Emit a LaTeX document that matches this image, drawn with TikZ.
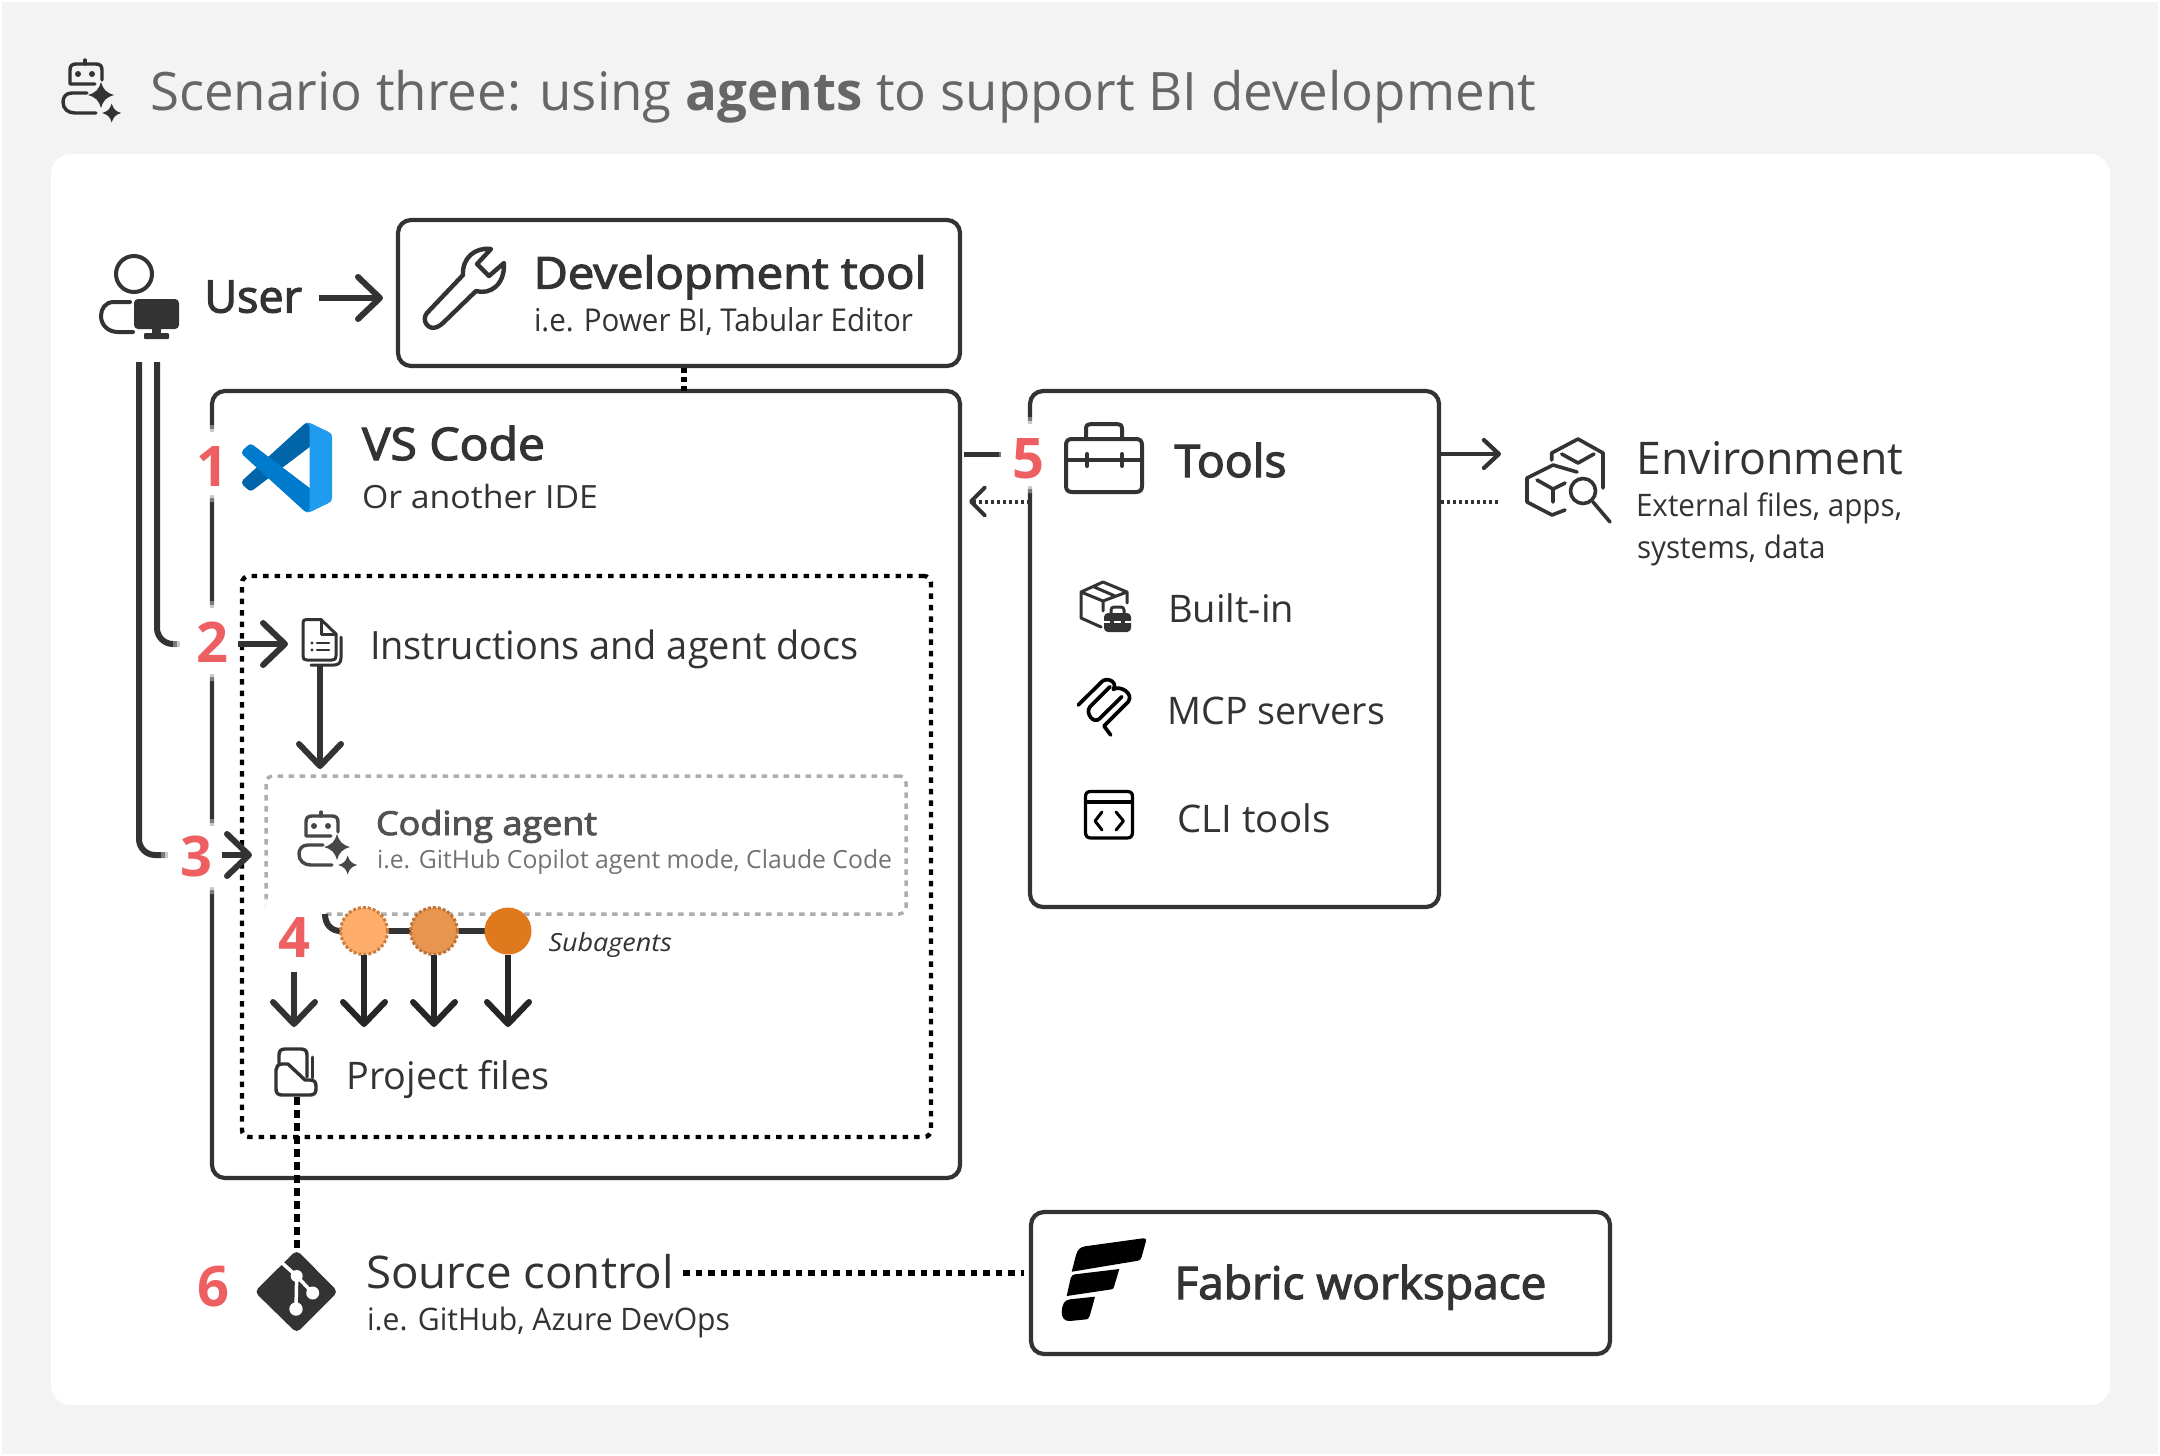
\documentclass[tikz,border=0pt]{standalone}
\usepackage{graphicx}
\usepackage{fontspec}
\setmainfont{Open Sans}
\newfontfamily\semif[FakeBold=2.6]{Open Sans}
\usetikzlibrary{arrows.meta}
\definecolor{ink}{HTML}{333333}
\definecolor{pagebg}{HTML}{F3F3F3}
\definecolor{numred}{HTML}{EE5F62}
\definecolor{sub}{HTML}{666666}
\tikzset{
  x=1pt,y=-1pt,
  txtnode/.style={inner sep=0pt,outer sep=0pt,anchor=base west},
  numnode/.style={inner sep=0pt,outer sep=0pt,anchor=base,text=numred,font=\bfseries\fontsize{56}{56}\selectfont},
  solidbox/.style={draw=ink,line width=4.2pt,rounded corners=13pt,inner sep=0pt,outer sep=0pt},
  dotbox/.style={draw=black,line width=4.4pt,rounded corners=7pt,dash pattern=on 5.5pt off 6pt,inner sep=0pt,outer sep=0pt},
  greybox/.style={draw=black!32,line width=3.5pt,rounded corners=7pt,dash pattern=on 5.5pt off 5.5pt,inner sep=0pt,outer sep=0pt},
  bigarrow/.style={draw=ink,line width=6pt,-{Straight Barb[length=22pt,width=42pt,line width=6pt,round]}},
  thinarrow/.style={draw=ink,line width=4.5pt,-{Straight Barb[length=15pt,width=28pt,line width=4.2pt,round]}},
  finearrow/.style={draw=ink,line width=4pt,dash pattern=on 3pt off 3pt,-{Straight Barb[length=14pt,width=28pt,line width=3.8pt,round]}},
  icon/.style={draw=ink,line width=4pt,line cap=round,line join=round},
  subagent/.style={circle,minimum size=47pt,inner sep=0pt,outer sep=0pt},
}
\newcommand\tx[8]{\node[txtnode,text=#7] (#1) at (#2,#3) {\resizebox{#4pt}{\height}{#5\fontsize{#6}{#6}\selectfont #8}};}
\newcommand\boxn[6]{\node[#6,minimum width={(#4-#2)*1pt},minimum height={(#5-#3)*1pt}] (#1) at ({(#2+#4)/2},{(#3+#5)/2}) {};}
\newcommand\halo[4]{%
  \fill[white,opacity=.35,rounded corners=6pt] (#1-7,#2-7) rectangle (#3+7,#4+7);
  \fill[white,opacity=.6,rounded corners=5pt] (#1-3,#2-3) rectangle (#3+3,#4+3);
  \fill[white,rounded corners=3pt] (#1,#2) rectangle (#3,#4);}
\newcommand\spark[3]{\begin{scope}[shift={(#1,#2)},scale=#3]
  \fill (0,-1) .. controls (.18,-.4) and (.4,-.18) .. (1,0) .. controls (.4,.18) and (.18,.4) .. (0,1) .. controls (-.18,.4) and (-.4,.18) .. (-1,0) .. controls (-.4,-.18) and (-.18,-.4) .. (0,-1) -- cycle;\end{scope}}
\newcommand\robot[3]{\begin{scope}[shift={(#1,#2)},color=#3,fill=#3]
  \draw[icon,draw=#3,line width=3.4pt] (95,84) -- (70,84) -- (70,70) .. controls (70,66) and (72,64) .. (76,64) -- (96,64) .. controls (100,64) and (102,66) .. (102,70) -- (102,80);
  \draw[icon,draw=#3,line width=3.4pt] (85,60) -- (85,64);
  \fill (78,74) circle (3);\fill (92,74) circle (3);
  \draw[icon,draw=#3,line width=3.4pt] (87,93) -- (72,93) .. controls (66,93) and (63,97) .. (63,102) .. controls (63,109) and (68,113) .. (75,113) -- (96,113);
  \spark{101}{95}{13}\spark{111.7}{113}{9.5}\end{scope}}
\begin{document}
\begin{tikzpicture}
\useasboundingbox (0,0) rectangle (2160,1456);
\fill[white] (0,0) rectangle (2160,1456);
\fill[pagebg] (2,2) rectangle (2158,1454);
\fill[white,rounded corners=20pt] (51,154) rectangle (2110,1405);

% boxes
\boxn{devbox}{398}{220}{960}{366}{solidbox}
\boxn{vsbox}{212}{391}{960}{1178}{solidbox}
\boxn{toolsbox}{1030}{391}{1439}{907}{solidbox}
\boxn{fabricbox}{1031}{1212}{1610}{1354}{solidbox}
\boxn{docsbox}{242}{576}{931}{1137}{dotbox}
\boxn{agentbox}{266}{776}{906}{914}{greybox}

% named ends
\coordinate (userA) at (157,362);
\coordinate (userB) at (139,362);
\coordinate (endA) at (190,644);
\coordinate (endB) at (172,855);
\coordinate (devdot) at (684,368);
\coordinate (vsdot) at (684,391);
\coordinate (vsout) at (964,454);
\coordinate (vsoutend) at (1001,454);
\coordinate (toolsin) at (1030,501.5);
\coordinate (vsin) at (969,501.5);
\coordinate (toolsout) at (1441,454);
\coordinate (envin) at (1501,454);
\coordinate (toolsdot) at (1441,501.5);
\coordinate (envdot) at (1500,501.5);

\draw[draw=ink,line width=6pt,rounded corners=16pt] (userA) |- (endA);
\draw[draw=ink,line width=6pt,rounded corners=16pt] (userB) |- (endB);
\draw[draw=black,line width=5.5pt,dash pattern=on 5pt off 4pt] (devdot) -- (vsdot);
\draw[draw=ink,line width=5pt] (vsout) -- (vsoutend);

% halos round the numbers
\halo{199}{432}{226}{495}
\halo{180}{608}{232}{674}
\halo{168}{826}{222}{887}
\halo{265}{905}{320}{966}
\halo{1006}{424}{1046}{486}

% connectors
\coordinate (a2s) at (238,644); \coordinate (a2e) at (288,644);
\draw[bigarrow] (a2s) -- (a2e);
\coordinate (a3s) at (222,855); \coordinate (a3e) at (252,855);
\draw[bigarrow] (a3s) -- (a3e);
\coordinate (userarrow) at (319,298); \coordinate (devin) at (383,298);
\draw[bigarrow] (userarrow) -- (devin);
\coordinate (docout) at (320,666); \coordinate (agentin) at (320,769);
\draw[bigarrow] (docout) -- (agentin);
\draw[finearrow] (toolsin) -- (vsin);
\draw[thinarrow] (toolsout) -- (envin);
\draw[draw=ink,line width=4pt,dash pattern=on 3pt off 3pt] (toolsdot) -- (envdot);

% subagents
\coordinate (agentfoot) at (325,914);
\node[subagent,fill=white] (s1) at (364,931) {};
\node[subagent,fill=white] (s2) at (434,931) {};
\node[subagent,fill=white] (s3) at (508,931) {};
\draw[draw=ink,line width=6pt] (agentfoot) .. controls (325,925) and (332,931) .. (s1.west);
\draw[draw=ink,line width=6pt] (s1) -- (s2);
\draw[draw=ink,line width=6pt] (s2) -- (s3);
\node[subagent,fill={rgb,255:red,255;green,173;blue,107},draw={rgb,255:red,200;green,125;blue,65},line width=3pt,dash pattern=on 3pt off 2pt] (s1b) at (s1) {};
\node[subagent,fill={rgb,255:red,232;green,149;blue,79},draw={rgb,255:red,190;green,115;blue,55},line width=3pt,dash pattern=on 3pt off 2pt] (s2b) at (s2) {};
\node[subagent,fill={rgb,255:red,224;green,120;blue,30}] (s3b) at (s3) {};
\coordinate (t0) at (294,972);\coordinate (t0e) at (294,1027);
\coordinate (t1) at (364,1027);\coordinate (t2) at (434,1027);\coordinate (t3) at (508,1027);
\draw[bigarrow] (t0) -- (t0e);
\draw[bigarrow,draw=black!85] (s1b.south) -- (t1);
\draw[bigarrow,draw=black!85] (s2b.south) -- (t2);
\draw[bigarrow,draw=black!85] (s3b.south) -- (t3);

% source control connectors
\coordinate (projout) at (297,1097);
\coordinate (gittop) at (297,1250);
\coordinate (srcout) at (683,1273);
\coordinate (fabricin) at (1024,1273);
\draw[draw=black,line width=6pt,dash pattern=on 8pt off 5pt] (projout) -- (gittop);
\draw[draw=black,line width=6pt,dash pattern=on 6.5pt off 6pt] (srcout) -- (fabricin);

% title icon + title
\robot{0}{0}{ink}
\tx{title}{150}{110}{1386}{}{53}{sub}{Scenario three: using {\bfseries agents} to support BI development}

% user icon
\draw[icon] (134,274) circle (18);
\draw[icon] (130,302) -- (114,302) .. controls (105,302) and (101,309) .. (101,316) .. controls (101,325) and (108,332) .. (118,332) -- (133,332);
\fill[ink,rounded corners=4pt] (134,299) rectangle (179,329);
\fill[ink] (152,328) rectangle (161,335);
\fill[ink,rounded corners=1pt] (144,333) rectangle (169,339);
\tx{user}{204.5}{312.5}{97.5}{\semif}{45}{ink}{User}

% wrench
\draw[icon,line width=4.4pt] (491,249) .. controls (475,247) and (462,258) .. (463,275) -- (427,313) .. controls (421,320) and (428,331) .. (437,327) .. controls (439,326) and (441,325) .. (443,323) -- (476,291) .. controls (490,295) and (505,285) .. (504,263) -- (489,276) -- (477,264) -- cycle;
\tx{devt}{533.5}{288.6}{393}{\semif}{44}{ink}{Development tool}
\tx{devs}{534}{331.5}{379}{}{31.5}{ink}{i.e. Power BI, Tabular Editor}

% VS Code logo
\begin{scope}[shift={(242,422.5)},scale=.9]
\fill[color={rgb,255:red,0;green,101;blue,169}] (75.9,.9) .. controls (73.5,-.3) and (70.5,.1) .. (68.8,2.1) -- (1.3,63.6) .. controls (-.4,65.2) and (-.4,68) .. (1.3,69.7) -- (6.8,74.7) .. controls (8.3,76) and (10.6,76.1) .. (12.2,75) -- (93.4,13.4) .. controls (96,11.4) and (100,13.3) .. (100,16.6) .. controls (100,14) and (98.6,11.8) .. (96.5,10.8) -- cycle;
\fill[color={rgb,255:red,0;green,122;blue,204}] (75.9,99.1) .. controls (73.5,100.3) and (70.5,99.9) .. (68.8,97.9) -- (1.3,36.4) .. controls (-.4,34.8) and (-.4,32) .. (1.3,30.3) -- (6.8,25.3) .. controls (8.3,24) and (10.6,23.9) .. (12.2,25) -- (93.4,86.6) .. controls (96,88.6) and (100,86.7) .. (100,83.4) .. controls (100,86) and (98.6,88.2) .. (96.5,89.2) -- cycle;
\fill[color={rgb,255:red,31;green,156;blue,240}] (75.9,99.1) .. controls (73.5,100.3) and (70.5,99.9) .. (68.8,97.9) .. controls (71,100.2) and (75,98.6) .. (75,95.35) -- (75,4.65) .. controls (75,1.4) and (71,-.2) .. (68.8,2.1) .. controls (70.5,.1) and (73.5,-.3) .. (75.9,.9) -- (96.5,10.8) .. controls (98.6,11.8) and (100,14) .. (100,16.4) -- (100,83.6) .. controls (100,86) and (98.6,88.2) .. (96.5,89.2) -- cycle;
\end{scope}
\tx{vst}{362}{460}{183}{\semif}{45}{ink}{VS Code}
\tx{vss}{362}{508}{236}{}{32}{ink}{Or another IDE}

% doc icon
\draw[icon,line width=3pt] (307,619.5) -- (321,619.5) -- (336,634) -- (336,656) .. controls (336,659) and (335,660) .. (332,660) -- (307,660) .. controls (304,660) and (303,659) .. (303,656) -- (303,623) .. controls (303,620) and (304,619.5) .. (307,619.5) -- cycle;
\draw[icon,line width=3pt] (321,620) -- (321,634) -- (336,634);
\draw[icon,line width=3pt] (341,637) -- (341,658) .. controls (341,663) and (338,665) .. (334,665) -- (311,665);
\draw[icon,line width=2.5pt] (317,643) -- (329,643) (317,650) -- (329,650);
\fill[ink] (312,643) circle (1.6) (312,650) circle (1.6);
\tx{docs}{370}{659}{489}{}{39}{ink}{Instructions and agent docs}

% coding agent
\robot{236}{752}{black!72}
\tx{agt}{376}{835}{221}{\semif}{33}{black!68}{Coding agent}
\tx{ags}{377}{868}{515}{}{25}{black!55}{i.e. GitHub Copilot agent mode, Claude Code}
\tx{subs}{548.5}{951}{123.5}{\itshape}{25}{ink}{Subagents}

% project files icon
\draw[icon,line width=3.4pt] (279,1063) -- (279,1055) .. controls (279,1051) and (281,1049) .. (285,1049) -- (301,1049) .. controls (305,1049) and (307,1051) .. (307,1055) -- (307,1077);
\draw[icon,line width=2.8pt] (312.7,1057) -- (312.7,1078);
\draw[icon,line width=3.4pt] (288,1064) -- (282,1064) .. controls (278,1064) and (276,1067) .. (276,1070) -- (276,1089) .. controls (276,1093) and (278,1095) .. (282,1095) -- (310,1095) .. controls (314,1095) and (316,1093) .. (316,1089) -- (316,1086) .. controls (316,1082) and (314,1080) .. (310,1080) -- (305,1080) -- (288,1064) -- cycle;
\tx{proj}{346.5}{1089}{203}{}{38}{ink}{Project files}

% tools
\draw[icon] (1072,439) -- (1136,439) .. controls (1140,439) and (1142,441) .. (1142,445) -- (1142,486) .. controls (1142,490) and (1140,492) .. (1136,492) -- (1072,492) .. controls (1068,492) and (1066,490) .. (1066,486) -- (1066,445) .. controls (1066,441) and (1068,439) .. (1072,439) -- cycle;
\draw[icon] (1086,438) -- (1086,429) .. controls (1086,425) and (1088,424) .. (1091,424) -- (1117,424) .. controls (1120,424) and (1122,425) .. (1122,429) -- (1122,438);
\draw[icon] (1066,459.5) -- (1142,459.5);
\draw[icon] (1087,454) -- (1087,466) (1122,454) -- (1122,466);
\tx{toolst}{1174.5}{477}{112}{\semif}{45}{ink}{Tools}

% built-in
\draw[icon,line width=3pt] (1103,582) -- (1127,592) -- (1127,603) (1103,582) -- (1081,592) -- (1081,618) -- (1101,627) (1081,592) -- (1103,601) -- (1103,611) (1103,601) -- (1127,592) (1093,586.5) -- (1115,596);
\fill[ink,rounded corners=4pt] (1104,613) rectangle (1131,632);
\draw[draw=ink,line width=3pt,rounded corners=3pt] (1111,614) -- (1111,607) -- (1124,607) -- (1124,614);
\draw[white,line width=1.5pt] (1104,622) -- (1110,622) (1114,622) -- (1121,622) (1125,622) -- (1131,622);
\tx{built}{1168}{622}{126}{}{38}{ink}{Built-in}

% MCP
\draw[icon,draw=black,line width=3.7pt] (1078.3,705) -- (1101.7,681.7) .. controls (1106.7,676.7) and (1118.3,681.7) .. (1113.3,689.3) .. controls (1120,685) and (1134,693.3) .. (1128.3,701.7) -- (1104,726) -- (1110.7,735);
\draw[icon,draw=black,line width=3.7pt] (1110,686.7) -- (1090,706.7) .. controls (1085,712.7) and (1093.3,725) .. (1100,718.3) -- (1121.7,696.7);
\tx{mcp}{1167.5}{724.6}{217.5}{}{38}{ink}{MCP servers}

% CLI
\draw[icon,draw=black,line width=3.2pt] (1091,791.5) -- (1127,791.5) .. controls (1131,791.5) and (1132.5,793) .. (1132.5,797) -- (1132.5,832) .. controls (1132.5,836) and (1131,838) .. (1127,838) -- (1091,838) .. controls (1087,838) and (1085.5,836) .. (1085.5,832) -- (1085.5,797) .. controls (1085.5,793) and (1087,791.5) .. (1091,791.5) -- cycle;
\draw[icon,draw=black,line width=3.2pt] (1085.5,802) -- (1132.5,802);
\draw[icon,draw=black,line width=3pt] (1102,812) -- (1095,821) -- (1102,830) (1116,812) -- (1123.5,821) -- (1116,830);
\tx{cli}{1177.5}{832}{153}{}{38}{ink}{CLI tools}

% environment icon
\draw[icon,line width=3.6pt] (1551.7,460) -- (1551.7,453) -- (1578,439) -- (1603,453) -- (1603,488);
\draw[icon,line width=3.6pt] (1561.7,454) -- (1578,463) -- (1594,454);
\draw[icon,line width=3.6pt] (1565,510) -- (1552,515) -- (1527,502) -- (1527,478) -- (1553,465) -- (1577,472);
\draw[icon,line width=3.6pt] (1537,480) -- (1553,489) -- (1565,483) (1553,489) -- (1553,502);
\draw[icon,line width=3.6pt] (1583,491) circle (12.5);
\draw[icon,line width=3.6pt] (1593,502) -- (1610,522);
\tx{envt}{1636.5}{474}{267}{}{45}{ink}{Environment}
\tx{envs}{1636}{516}{266}{}{31}{ink}{External files, apps,}
\tx{envu}{1637}{558.5}{188.5}{}{31}{ink}{systems, data}

% git
\fill[ink,rounded corners=5pt] (296.7,1250) -- (338,1291.7) -- (296.7,1333) -- (254.5,1291.7) -- cycle;
\draw[white,line width=3.5pt] (281,1262) -- (296.7,1276) -- (296,1309) (296.7,1276) -- (312.7,1293);
\fill[white] (296.7,1276) circle (6) (296,1309) circle (6.7) (312.7,1293) circle (6.5);
\tx{srct}{366}{1288}{308}{}{45}{ink}{Source control}
\tx{srcs}{367}{1330}{363}{}{31}{ink}{i.e. GitHub, Azure DevOps}

% fabric
\fill[black] (1071.7,1271.7) -- (1076,1255) .. controls (1077.5,1250) and (1080,1247) .. (1085,1246.3) -- (1143,1238.3) .. controls (1145.5,1238) and (1146.5,1239) .. (1146,1241) -- (1141.7,1256.7) .. controls (1141,1259) and (1140,1260.2) .. (1138,1260.7) -- cycle;
\fill[black] (1066.7,1296) -- (1070.7,1278) .. controls (1071.5,1275.5) and (1073,1274.5) .. (1075,1274.3) -- (1119.3,1269) -- (1114,1286.7) .. controls (1113.5,1288.2) and (1113,1289) .. (1111.7,1289.3) -- cycle;
\fill[black] (1095,1296.7) -- (1090,1315) .. controls (1089,1318) and (1088,1319) .. (1086.7,1319.3) -- (1070,1321) .. controls (1064,1321.5) and (1061.5,1317) .. (1061.7,1312) .. controls (1062,1305) and (1064,1300) .. (1070,1299.3) -- cycle;
\tx{fabt}{1174.5}{1299}{372}{\semif}{45}{ink}{Fabric workspace}

% numbers
\node[numnode] (n1) at (212.5,486) {1};
\node[numnode] (n2) at (212,662) {2};
\node[numnode] (n3) at (196.5,876) {3};
\node[numnode] (n4) at (294.5,957) {4};
\node[numnode] (n5) at (1028.5,478) {5};
\node[numnode] (n6) at (213,1306) {6};
\end{tikzpicture}
\end{document}
